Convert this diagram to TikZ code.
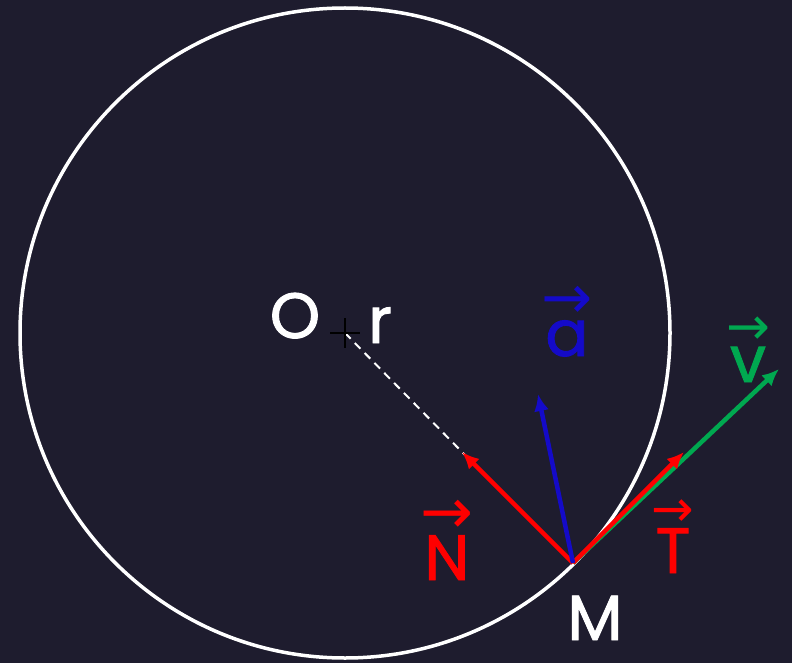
\documentclass[tikz,border=0pt]{standalone}
\usepackage{graphicx}
\usepackage{fontspec}
\setmainfont{Poppins}
\newfontfamily\labfont{Poppins}[FakeBold=1.4]
\newfontfamily\arrowfont{DejaVu Sans}
\usetikzlibrary{arrows.meta}

\definecolor{bgcol}{RGB}{30,28,46}
\definecolor{vred}{RGB}{255,0,0}
\definecolor{vblue}{RGB}{20,10,200}
\definecolor{vgreen}{RGB}{0,168,80}

% letter with an arrow set above it
\newcommand{\vlab}[1]{\setbox0\hbox{#1}\vbox{\offinterlineskip\hbox to\wd0{\hss\resizebox{\dimexpr\wd0+8pt\relax}{!}{\arrowfont →}\hss}\kern2pt\box0}}

\begin{document}
\begin{tikzpicture}[
    x=1pt, y=-1pt,
    lbl/.style={font=\fontsize{64}{64}\labfont, inner sep=0pt, anchor=base},
    vec/.style={line width=4.5pt, -{Latex[length=17pt,width=15pt]}},
    >={Latex[length=17pt,width=15pt]}
]
  \fill[bgcol] (0,0) rectangle (792,663);
  \useasboundingbox (0,0) rectangle (792,663);

  % circle and centre
  \coordinate (O) at (345,333);
  \coordinate (M) at (573,563);
  \draw[white, line width=3.5pt] (O) circle (325);
  \draw[white, line width=2pt, dashed, dash pattern=on 8pt off 6pt] (O) -- (465,455);
  \draw[black, line width=1.3pt] (330,333) -- (360,333) (345,318) -- (345,348);

  % vectors at M
  \coordinate (vtip) at (779,369);
  \coordinate (Ttip) at (684,452);
  \coordinate (Ntip) at (462,452);
  \coordinate (atip) at (538,394);
  \draw[vec, vgreen] (M) -- (vtip);
  \draw[vec, vred] (M) -- (Ttip);
  \draw[vec, vred] (M) -- (Ntip);
  \draw[vec, vblue] (M) -- (atip);

  % labels
  \node[lbl, white] (lO) at (295,338) {O};
  \node[lbl, white] (lr) at (380,343) {r};
  \node[lbl, white] (lM) at (595,640) {M};
  \node[lbl, vblue] (la) at (567,356) {\vlab{a}};
  \node[lbl, vgreen] (lv) at (748,382) {\vlab{v}};
  \node[lbl, vred] (lT) at (673,573) {\vlab{T}};
  \node[lbl, vred] (lN) at (447,580) {\vlab{N}};
\end{tikzpicture}
\end{document}
